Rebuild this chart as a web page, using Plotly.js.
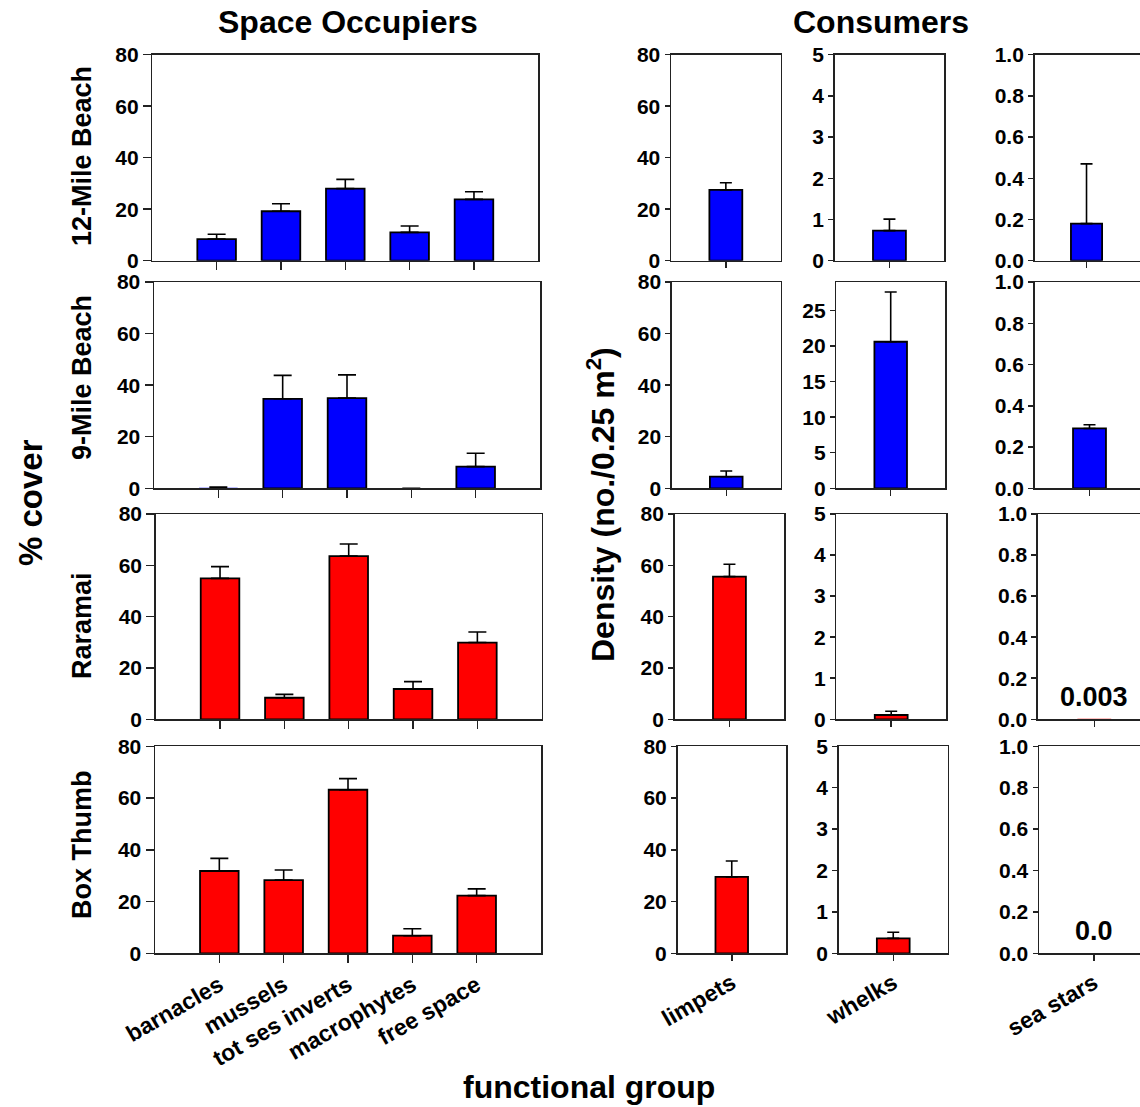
<!DOCTYPE html>
<html><head><meta charset="utf-8">
<script src="https://cdn.plot.ly/plotly-3.0.1.min.js"></script>
<style>html,body{margin:0;padding:0;background:#fff}</style>
</head><body><div id="chart" style="width:1140px;height:1107px"></div>
<script>
// ---- data ----
const sites = ["12-Mile Beach", "9-Mile Beach", "Raramai", "Box Thumb"];
const occupierGroups = ["barnacles", "mussels", "tot ses inverts", "macrophytes", "free space"];
const consumerGroups = ["limpets", "whelks", "sea stars"];

const cover12Mile = [8.4, 19.2, 28.0, 11.0, 23.8];
const se12Mile    = [1.9, 2.9, 3.6, 2.5, 3.0];
const cover9Mile  = [0.2, 34.7, 35.0, 0.0, 8.4];
const se9Mile     = [0.3, 9.1, 9.0, 0.0, 5.2];
const coverRaramai = [54.9, 8.4, 63.6, 11.8, 29.9];
const seRaramai    = [4.6, 1.3, 4.7, 2.9, 4.1];
const coverBoxThumb = [31.8, 28.3, 63.2, 6.8, 22.3];
const seBoxThumb    = [4.9, 3.9, 4.3, 2.7, 2.6];

const limpetsMean  = [27.5, 4.5, 55.6, 29.5];
const limpetsSE    = [2.8, 2.2, 4.8, 6.2];
const whelksMean   = [0.73, 20.6, 0.105, 0.36];
const whelksSE     = [0.28, 7.0, 0.09, 0.15];
const seaStarsMean = [0.18, 0.29, 0.003, 0.0];
const seaStarsSE   = [0.29, 0.018, 0.0, 0.0];
const seaStarsNote = ["", "", "0.003", "0.0"];

const siteColors = ["#0000ff", "#0000ff", "#ff0000", "#ff0000"];

// ---- layout geometry (pixels) ----
const W = 1140, H = 1107;
const FONT = "Liberation Sans, Arial, sans-serif";
const rowY = [[54.7, 260.7], [282, 488.3], [514, 719.3], [746.3, 953.3]];
const colX = [
  [[152.3, 538.3], [671.0, 780.7], [834.6, 944.3], [1034.6, 1140]],
  [[154.0, 540.0], [671.8, 780.7], [836.4, 945.0], [1034.6, 1140]],
  [[155.7, 541.7], [674.6, 784.3], [836.4, 946.0], [1037.9, 1140]],
  [[155.0, 541.0], [677.5, 786.0], [838.6, 947.9], [1039.0, 1140]]
];
const seaXmax = [1.03, 0.92, 0.81, 0.84];

const coverMeans = [cover12Mile, cover9Mile, coverRaramai, coverBoxThumb];
const coverSEs = [se12Mile, se9Mile, seRaramai, seBoxThumb];
const consMeans = [limpetsMean, whelksMean, seaStarsMean];
const consSEs = [limpetsSE, whelksSE, seaStarsSE];

const TICK = 21;
const traces = [];
const layout = {
  width: W, height: H,
  margin: {l: 0, r: 0, t: 0, b: 0},
  paper_bgcolor: "#fff", plot_bgcolor: "#fff",
  showlegend: false,
  font: {family: FONT, color: "#000"},
  annotations: []
};

function axName(n, p) { return p + (n === 1 ? "" : n); }

for (let r = 0; r < 4; r++) {
  for (let c = 0; c < 4; c++) {
    const n = r * 4 + c + 1;
    const xa = axName(n, "x"), ya = axName(n, "y");
    const [x0, x1] = colX[r][c];
    const [yt, yb] = rowY[r];
    let xcats, ymean, yse, yrange, dtick, tickfmt, xrange, capw, tl;
    if (c === 0) {
      xcats = occupierGroups; ymean = coverMeans[r]; yse = coverSEs[r];
      yrange = [0, 80]; dtick = 20; tickfmt = "d"; xrange = [-1, 5]; capw = 9; tl = 8;
    } else {
      xcats = [consumerGroups[c - 1]];
      ymean = [consMeans[c - 1][r]]; yse = [consSEs[c - 1][r]];
      capw = 6; tl = 5;
      xrange = [-1, c === 3 ? seaXmax[r] : 1];
      if (c === 1) { yrange = [0, 80]; dtick = 20; tickfmt = "d"; }
      else if (c === 2) { yrange = r === 1 ? [0, 29] : [0, 5]; dtick = r === 1 ? 5 : 1; tickfmt = "d"; }
      else { yrange = [0, 1]; dtick = 0.2; tickfmt = ".1f"; }
    }
    const tiny = ymean.map(v => v < 0.01 * yrange[1]);
    traces.push({
      type: "bar", x: xcats, y: ymean, xaxis: xa, yaxis: ya, width: 0.6,
      marker: {color: siteColors[r], line: {color: "#000", width: tiny.map(t => t ? 0 : 1.8)}},
      error_y: {type: "data", symmetric: false, array: yse, arrayminus: yse.map(() => 0),
                visible: yse.some(v => v > 0),
                color: "#000", thickness: 1.6, width: capw},
      hoverinfo: "skip"
    });
    const bottom = r === 3;
    layout[axName(n, "xaxis")] = {
      domain: [x0 / W, x1 / W], anchor: ya, type: "category", range: xrange,
      showline: true, linecolor: "#222", linewidth: 1.5, mirror: true,
      ticks: "outside", ticklen: c === 0 ? 8 : 6, tickwidth: 1.5, tickcolor: "#222",
      showgrid: false, zeroline: false,
      showticklabels: bottom, tickangle: -30,
      tickfont: {family: FONT, size: 23, weight: "bold", color: "#000"}
    };
    layout[axName(n, "yaxis")] = {
      domain: [1 - yb / H, 1 - yt / H], anchor: xa, range: yrange,
      tickmode: "linear", tick0: 0, dtick: dtick, tickformat: tickfmt,
      showline: true, linecolor: "#222", linewidth: 1.5, mirror: c !== 3,
      ticks: "outside", ticklen: tl, tickwidth: 1.5, tickcolor: "#222",
      showgrid: false, zeroline: false,
      tickfont: {family: FONT, size: TICK, weight: "bold", color: "#000"}
    };
    if (c === 3 && seaStarsNote[r]) {
      layout.annotations.push({
        xref: xa, yref: ya, x: 0, y: 0.11, text: seaStarsNote[r], showarrow: false,
        font: {family: FONT, size: 27, weight: "bold", color: "#000"}
      });
    }
  }
}

function paperAnn(text, px, py, size, angle) {
  layout.annotations.push({
    xref: "paper", yref: "paper", x: px / W, y: 1 - py / H, text: text,
    showarrow: false, textangle: angle || 0, xanchor: "center", yanchor: "middle",
    font: {family: FONT, size: size, weight: "bold", color: "#000"}
  });
}
paperAnn("Space Occupiers", 348, 22, 32);
paperAnn("Consumers", 881, 22, 32);
paperAnn("% cover", 30, 503, 33, -90);
paperAnn("Density (no./0.25 m<sup>2</sup>)", 601, 505, 32, -90);
paperAnn("functional group", 589, 1087, 32);
const rowTitleY = [156, 378, 626, 845];
sites.forEach((s, i) => paperAnn(s, 82, rowTitleY[i], 27, -90));

Plotly.newPlot("chart", traces, layout, {staticPlot: true, displayModeBar: false});
</script>
</body></html>
